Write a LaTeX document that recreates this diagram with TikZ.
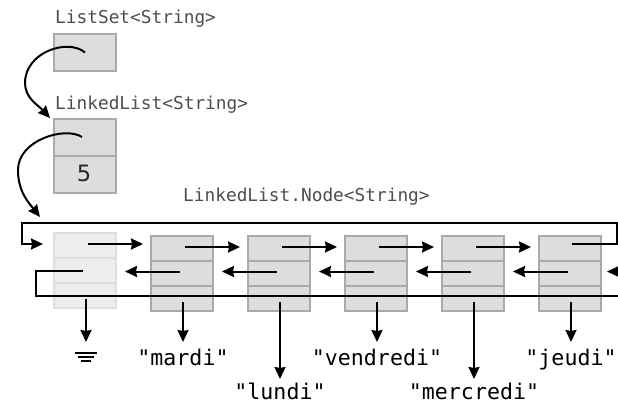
\documentclass[tikz,border=0pt]{standalone}
\usepackage{fontspec}
\setmonofont{DejaVu Sans Mono}
\newfontfamily\numfont{DejaVu Sans}
\usetikzlibrary{arrows.meta,calc}
\definecolor{cellfill}{HTML}{DCDDDF}
\definecolor{cellline}{HTML}{A9AAAB}
\definecolor{sentfill}{HTML}{EDEDED}
\definecolor{sentline}{HTML}{DEDEDE}
\definecolor{labelgray}{HTML}{4D4D4D}
\begin{document}
\begin{tikzpicture}[x=1pt,y=-1pt,
  cell/.style={draw=cellline, fill=cellfill, line width=2pt, minimum width=62pt, minimum height=75pt, inner sep=0pt, outer sep=0pt},
  sent/.style={cell, draw=sentline, fill=sentfill},
  divider/.style={line width=2pt, draw=cellline},
  sentdivider/.style={line width=2pt, draw=sentline},
  ptr/.style={line width=2pt, -{Stealth[length=12pt,width=11pt,inset=1pt]}},
  wire/.style={line width=2pt},
  typelabel/.style={font=\fontsize{17.8}{20}\selectfont\ttfamily, text=labelgray, inner sep=0pt, anchor=base west},
  strlabel/.style={font=\fontsize{21.6}{24}\selectfont\ttfamily, inner sep=0pt, anchor=base},
  numlabel/.style={font=\fontsize{22.5}{25}\selectfont\numfont, text=black!85, inner sep=0pt},
]
\useasboundingbox (0,0) rectangle (618,404);

% type labels
\node[typelabel] (lsl) at (55,23.5) {ListSet<String>};
\node[typelabel] (lll) at (55,109.5) {LinkedList<String>};
\node[typelabel] (nodel) at (183,201) {LinkedList.Node<String>};

% ListSet box
\node[cell, minimum height=37pt] (ls) at (85,52.5) {};
% LinkedList box
\node[cell, minimum height=74pt] (ll) at (85,156) {};
\draw[divider] (ll.west) -- (ll.east);
\node[numlabel] (five) at ($(ll.center)!0.5!(ll.south)+(-1,-1)$) {5};

% list nodes
\node[sent] (n0) at (85,270) {};
\foreach \i in {1,...,5} {
  \node[cell] (n\i) at ({85+97*\i},273) {};
}
\draw[sentdivider] ($(n0.north west)!1/3!(n0.south west)$) -- ($(n0.north east)!1/3!(n0.south east)$);
\draw[sentdivider] ($(n0.north west)!2/3!(n0.south west)$) -- ($(n0.north east)!2/3!(n0.south east)$);
\foreach \i in {1,...,5} {
  \draw[divider] ($(n\i.north west)!1/3!(n\i.south west)$) -- ($(n\i.north east)!1/3!(n\i.south east)$);
  \draw[divider] ($(n\i.north west)!2/3!(n\i.south west)$) -- ($(n\i.north east)!2/3!(n\i.south east)$);
}

% curved references
\draw[ptr] (ls.center) .. controls (68,38) and (25,52) .. (25,83)
  .. controls (25,98) and (38,105) .. ($(ll.north west)+(-4,-1)$);
\draw[ptr] ($(ll.north)+(-3,18)$) .. controls (65,126) and (18,140) .. (18,170)
  .. controls (18,192) and (29,203) .. ($(n0.north west)+(-14,-15.5)$);

% next pointers
\foreach \i/\j in {0/1,1/2,2/3,3/4,4/5} {
  \draw[ptr] ($(n\i.north west)+(34,11.5)$) -- ($(n\i.north east)+(27,11.5)$);
}
% prev pointers
\foreach \i/\j in {0/1,1/2,2/3,3/4,4/5} {
  \draw[ptr] ($(n\j.north west)+(29,36)$) -- ($(n\j.north west)+(-26,36)$);
}

% wrap-around next (last -> sentinel)
\coordinate (topR) at (617,223);
\coordinate (topL) at (22,223);
\draw[ptr] ($(n5.north west)+(33,8.5)$) -| (topR) -- (topL) |- ($(n0.north west)+(-11,11.5)$);

% wrap-around prev (sentinel -> last)
\coordinate (botR) at (620,296);
\coordinate (inR) at (620,271.5);
\draw[wire] ($(n0.north west)+(29,38.5)$) -- ++(-47,0) |- (botR);
\draw[ptr] (inR) -- ($(n5.north east)+(6,36)$);

% string references
\node[strlabel] (s1) at ($(n1.south)+(1,55)$) {"mardi"};
\node[strlabel] (s2) at ($(n2.south)+(1,88.5)$) {"lundi"};
\node[strlabel] (s3) at ($(n3.south)+(1,55)$) {"vendredi"};
\node[strlabel] (s4) at ($(n4.south)+(1,88.5)$) {"mercredi"};
\node[strlabel] (s5) at ($(n5.south)+(1,55)$) {"jeudi"};

\draw[ptr] ($(n0.south)+(1,-8.5)$) -- ($(n0.south)+(1,34.5)$);
\foreach \i in {1,3,5} {
  \draw[ptr] ($(n\i.south)+(1,-8.5)$) -- ($(n\i.south)+(1,31.5)$);
}
\foreach \i in {2,4} {
  \draw[ptr] ($(n\i.south)+(1,-8.5)$) -- ($(n\i.south)+(1,68.5)$);
}

% null (ground) symbol
\coordinate (gnd) at ($(n0.south)+(1,45.5)$);
\draw[wire] ($(gnd)+(-11,0)$) -- ($(gnd)+(11,0)$);
\draw[wire] ($(gnd)+(-8,4)$) -- ($(gnd)+(8,4)$);
\draw[wire] ($(gnd)+(-5,8)$) -- ($(gnd)+(5,8)$);
\end{tikzpicture}
\end{document}
